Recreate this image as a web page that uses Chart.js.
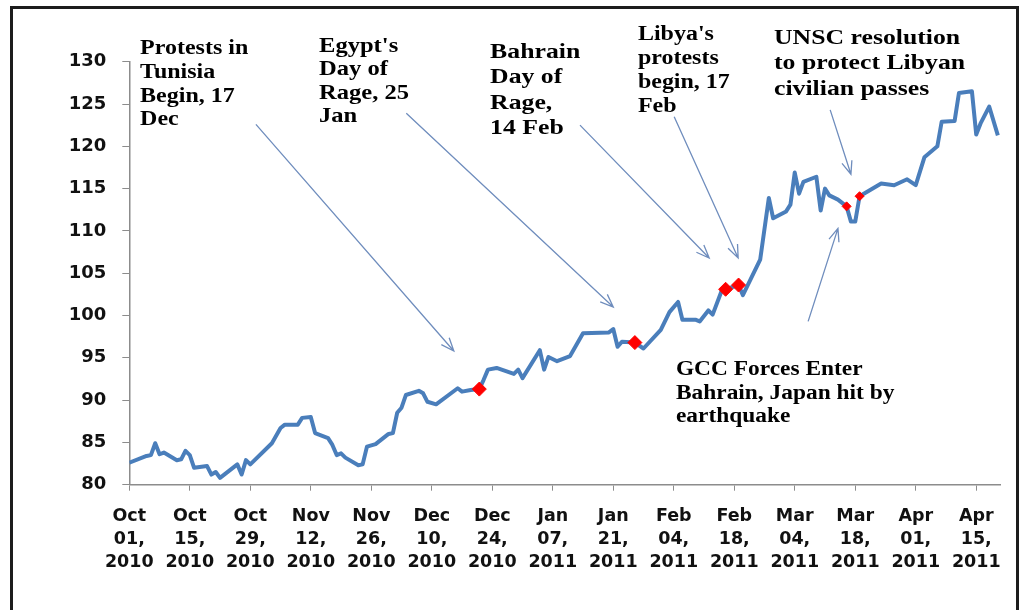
<!DOCTYPE html>
<html>
<head>
<meta charset="utf-8">
<script src="https://cdn.jsdelivr.net/npm/chart.js@4.4.1/dist/chart.umd.min.js"></script>
<style>
  html, body { margin: 0; padding: 0; background: #fff; }
  #wrap { position: relative; width: 1032px; height: 610px; overflow: hidden; }
  #frame { position: absolute; left: 10px; top: 6px; width: 1003px; height: 700px; border: 3px solid #1c1c1c; pointer-events: none; }
</style>
</head>
<body>
<div id="wrap">
  <canvas id="oilChart" width="1032" height="610"></canvas>
  <div id="frame"></div>
</div>
<script>
// daily price, Oct 2010 - Apr 2011
const priceDates = [
  '2010-10-01', '2010-10-05', '2010-10-06', '2010-10-07', '2010-10-08', '2010-10-09',
  '2010-10-12', '2010-10-13', '2010-10-14', '2010-10-15', '2010-10-16', '2010-10-19',
  '2010-10-20', '2010-10-21', '2010-10-22', '2010-10-26', '2010-10-27', '2010-10-28',
  '2010-10-29', '2010-11-03', '2010-11-05', '2010-11-06', '2010-11-09', '2010-11-10',
  '2010-11-12', '2010-11-13', '2010-11-16', '2010-11-17', '2010-11-18', '2010-11-19',
  '2010-11-20', '2010-11-23', '2010-11-24', '2010-11-25', '2010-11-27', '2010-11-30',
  '2010-12-01', '2010-12-02', '2010-12-03', '2010-12-04', '2010-12-07', '2010-12-08',
  '2010-12-09', '2010-12-11', '2010-12-16', '2010-12-17', '2010-12-19', '2010-12-21',
  '2010-12-22', '2010-12-23', '2010-12-25', '2010-12-29', '2010-12-30', '2010-12-31',
  '2011-01-04', '2011-01-05', '2011-01-06', '2011-01-08', '2011-01-11', '2011-01-14',
  '2011-01-20', '2011-01-21', '2011-01-22', '2011-01-23', '2011-01-26', '2011-01-28',
  '2011-02-01', '2011-02-03', '2011-02-05', '2011-02-06', '2011-02-09', '2011-02-10',
  '2011-02-12', '2011-02-13', '2011-02-15', '2011-02-16', '2011-02-19', '2011-02-20',
  '2011-02-24', '2011-02-26', '2011-02-27', '2011-03-02', '2011-03-03', '2011-03-04',
  '2011-03-05', '2011-03-06', '2011-03-09', '2011-03-10', '2011-03-11', '2011-03-12',
  '2011-03-14', '2011-03-16', '2011-03-17', '2011-03-18', '2011-03-19', '2011-03-24',
  '2011-03-27', '2011-03-30', '2011-04-01', '2011-04-03', '2011-04-06', '2011-04-07',
  '2011-04-10', '2011-04-11', '2011-04-14', '2011-04-15', '2011-04-16', '2011-04-18',
  '2011-04-20'
];
const prices = [
  82.6, 83.4, 83.5, 84.9, 83.6, 83.8,
  82.9, 83.0, 84.0, 83.5, 82.0, 82.2,
  81.2, 81.5, 80.8, 82.4, 81.2, 82.9,
  82.4, 84.9, 86.7, 87.1, 87.1, 87.9,
  88.0, 86.1, 85.5, 84.7, 83.5, 83.7,
  83.2, 82.3, 82.4, 84.5, 84.8, 86.0,
  86.1, 88.5, 89.1, 90.6, 91.1, 90.8,
  89.8, 89.5, 91.4, 91.0, 91.2, 91.3,
  92.4, 93.6, 93.8, 93.1, 93.6, 92.6,
  95.9, 93.6, 95.1, 94.6, 95.2, 97.9,
  98.0, 98.4, 96.3, 96.9, 96.8, 96.1,
  98.3, 100.4, 101.6, 99.5, 99.5, 99.3,
  100.6, 100.1, 102.8, 103.1, 103.6, 102.4,
  106.6, 113.9, 111.5, 112.3, 113.1, 116.9,
  114.4, 115.8, 116.4, 112.4, 115.0, 114.2,
  113.7, 112.9, 111.1, 111.1, 114.1, 115.6,
  115.4, 116.1, 115.4, 118.7, 120.0, 122.9,
  123.0, 126.3, 126.5, 121.4, 122.7, 124.7,
  121.3
];

// red diamonds on the line
const eventDates = ['2010-12-21', '2011-01-26', '2011-02-16', '2011-02-19', '2011-03-16', '2011-03-19'];
const eventPrices = [91.3, 96.8, 103.1, 103.6, 112.9, 114.1];

const tickDates = [
  '2010-10-01', '2010-10-15', '2010-10-29', '2010-11-12', '2010-11-26', '2010-12-10', '2010-12-24',
  '2011-01-07', '2011-01-21', '2011-02-04', '2011-02-18', '2011-03-04', '2011-03-18', '2011-04-01', '2011-04-15'
];
const yTicks = [80, 85, 90, 95, 100, 105, 110, 115, 120, 125, 130];

const monthNames = ['Jan', 'Feb', 'Mar', 'Apr', 'May', 'Jun', 'Jul', 'Aug', 'Sep', 'Oct', 'Nov', 'Dec'];
const startMs = Date.parse('2010-10-01');
const toDay = d => Math.round((Date.parse(d) - startMs) / 86400000);
const tickDays = tickDates.map(toDay);

function tickLabel(d) {
  const [yy, mm, dd] = d.split('-');
  return [monthNames[+mm - 1], dd + ',', yy];
}

const notes = [
  { lines: ['Protests in', 'Tunisia', 'Begin, 17', 'Dec'], day: 2.5, price: 131.5, size: 20.5, gap: 23.7 },
  { lines: ["Egypt's", 'Day of', 'Rage, 25', 'Jan'], day: 43.9, price: 131.8, size: 21, gap: 23.4 },
  { lines: ['Bahrain', 'Day of', 'Rage,', '14 Feb'], day: 83.5, price: 131.1, size: 22, gap: 25.4 },
  { lines: ["Libya's", 'protests', 'begin, 17', 'Feb'], day: 117.7, price: 133.2, size: 20.5, gap: 23.9 },
  { lines: ['UNSC resolution', 'to protect Libyan', 'civilian passes'], day: 149.2, price: 132.8, size: 22, gap: 25.5 },
  { lines: ['GCC Forces Enter', 'Bahrain, Japan hit by', 'earthquake'], day: 126.5, price: 93.6, size: 20, gap: 23.7 }
];

const arrows = [
  { from: [29.3, 122.6], to: [75.1, 95.8] },
  { from: [64.1, 123.9], to: [112.0, 101.0] },
  { from: [104.3, 122.5], to: [134.2, 106.8] },
  { from: [126.1, 123.5], to: [140.9, 106.8] },
  { from: [162.2, 124.3], to: [167.0, 116.7] },
  { from: [157.1, 99.3], to: [164.0, 110.3] }
];

const notesPlugin = {
  id: 'eventNotes',
  afterDatasetsDraw(chart) {
    const { ctx, scales: { x, y } } = chart;
    ctx.save();
    ctx.strokeStyle = '#6f8dbd';
    ctx.lineWidth = 1.3;
    arrows.forEach(a => {
      const x1 = x.getPixelForValue(a.from[0]), y1 = y.getPixelForValue(a.from[1]);
      const x2 = x.getPixelForValue(a.to[0]), y2 = y.getPixelForValue(a.to[1]);
      const ang = Math.atan2(y2 - y1, x2 - x1);
      ctx.beginPath();
      ctx.moveTo(x1, y1);
      ctx.lineTo(x2, y2);
      ctx.moveTo(x2 - 14 * Math.cos(ang - 0.38), y2 - 14 * Math.sin(ang - 0.38));
      ctx.lineTo(x2, y2);
      ctx.lineTo(x2 - 14 * Math.cos(ang + 0.38), y2 - 14 * Math.sin(ang + 0.38));
      ctx.stroke();
    });

    ctx.fillStyle = '#000';
    ctx.textBaseline = 'middle';
    ctx.textAlign = 'left';
    notes.forEach(n => {
      ctx.font = 'bold ' + n.size + 'px "Liberation Serif"';
      const nx = x.getPixelForValue(n.day), ny = y.getPixelForValue(n.price);
      n.lines.forEach((line, i) => {
        ctx.save();
        ctx.translate(nx, ny + i * n.gap);
        ctx.scale(1.17, 1);
        ctx.fillText(line, 0, 0);
        ctx.restore();
      });
    });
    ctx.restore();
  }
};

const axisGrey = '#8c8c8c';

new Chart(document.getElementById('oilChart'), {
  type: 'line',
  data: {
    datasets: [{
      data: eventDates.map((d, i) => ({ x: toDay(d), y: eventPrices[i] })),
      showLine: false,
      pointStyle: 'rectRot',
      pointRadius: [7, 7, 7, 7, 4.5, 4.5],
      pointBackgroundColor: '#ff0000',
      pointBorderColor: '#ff0000',
      pointBorderWidth: 1
    }, {
      data: priceDates.map((d, i) => ({ x: toDay(d), y: prices[i] })),
      borderColor: '#4a7ebb',
      borderWidth: 4,
      tension: 0,
      pointRadius: 0,
      borderJoinStyle: 'round',
      fill: false
    }]
  },
  options: {
    responsive: false,
    animation: false,
    layout: { padding: { left: 0, right: 32, top: 61.7, bottom: 0 } },
    plugins: { legend: { display: false }, tooltip: { enabled: false } },
    scales: {
      x: {
        type: 'linear',
        min: 0,
        max: 201.5,
        afterBuildTicks: s => { s.ticks = tickDays.map(v => ({ value: v })); },
        afterFit: s => { s.height = 125.3; },
        grid: { drawOnChartArea: false, tickLength: 6, color: axisGrey },
        border: { color: axisGrey, width: 1.5 },
        ticks: {
          autoSkip: false,
          maxRotation: 0,
          padding: 14,
          color: '#111',
          font: { family: 'DejaVu Sans', weight: 'bold', size: 17.5, lineHeight: 1.31 },
          callback: v => tickLabel(tickDates[tickDays.indexOf(v)])
        }
      },
      y: {
        min: 80,
        max: 130,
        afterBuildTicks: s => { s.ticks = yTicks.map(v => ({ value: v })); },
        afterFit: s => { s.width = 129.3; },
        grid: { drawOnChartArea: false, tickLength: 7, color: axisGrey },
        border: { color: axisGrey, width: 1.5 },
        ticks: {
          padding: 16,
          color: '#111',
          font: { family: 'DejaVu Sans', weight: 'bold', size: 18 }
        }
      }
    }
  },
  plugins: [notesPlugin]
});
</script>
</body>
</html>
